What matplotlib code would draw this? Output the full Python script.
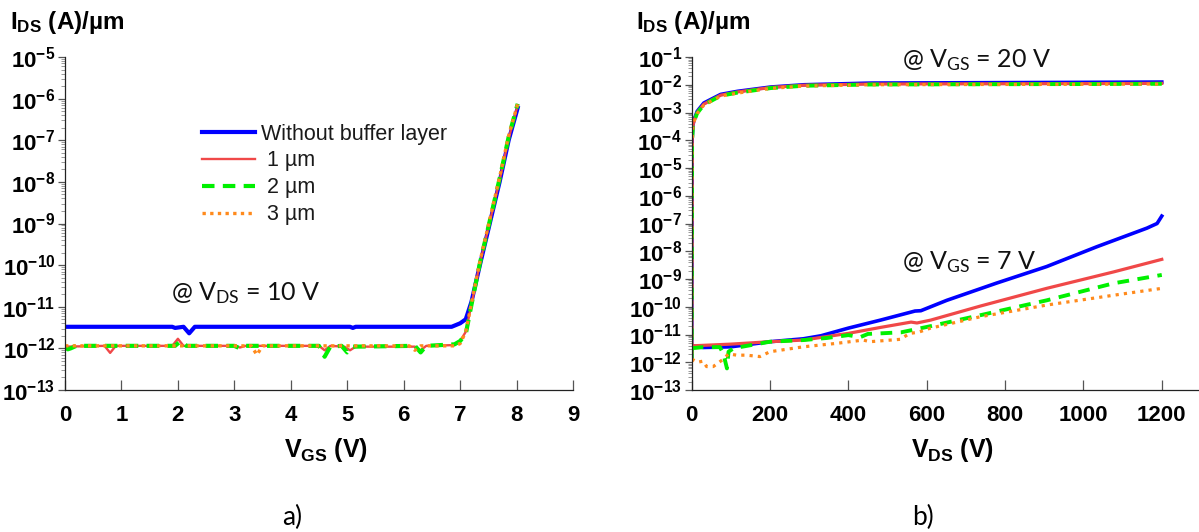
import numpy as np
import matplotlib
matplotlib.use("Agg")
import matplotlib.pyplot as plt
from matplotlib.ticker import LogLocator, NullFormatter

plt.rcParams['font.family'] = ['Liberation Sans', 'DejaVu Sans']
plt.rcParams['mathtext.default'] = 'regular'

# ---- a) transfer curves, I_DS vs V_GS @ V_DS = 10 V ----
vgs_blue = [0, 1.9, 1.95, 2.1, 2.2, 2.3, 5.05, 5.1, 5.15, 6.85, 7.0, 7.1, 7.2, 7.35, 7.7, 7.86, 8.02]
ids_blue = [3.3e-12, 3.3e-12, 3.1e-12, 3.3e-12, 2.3e-12, 3.3e-12, 3.3e-12, 3.1e-12, 3.3e-12,
            3.3e-12, 4.0e-12, 5.0e-12, 1.3e-11, 1.0e-10, 1.0e-8, 1.0e-7, 6.0e-7]

vgs_1um = [0, 0.7, 0.8, 0.9, 1.9, 2.0, 2.1, 3.0, 3.1, 3.2, 4.5, 4.6, 4.7, 4.95, 5.05, 5.15,
           6.2, 6.3, 6.4, 6.9, 7.0, 7.1, 7.2, 7.35, 7.7, 7.86, 8.02]
ids_1um = [1.1e-12, 1.15e-12, 7.8e-13, 1.15e-12, 1.15e-12, 1.7e-12, 1.15e-12, 1.15e-12, 1.05e-12,
           1.15e-12, 1.15e-12, 9e-13, 1.15e-12, 1.1e-12, 9e-13, 1.1e-12, 1.1e-12, 9e-13, 1.15e-12,
           1.2e-12, 1.5e-12, 2.5e-12, 1.1e-11, 1.1e-10, 1.1e-8, 1.1e-7, 7e-7]

vgs_2um = [0, 0.05, 0.1, 0.2, 1.95, 2.05, 2.15, 3.0, 3.1, 3.2, 4.5, 4.6, 4.7, 4.9, 5.0, 5.1,
           6.2, 6.3, 6.4, 6.9, 7.0, 7.1, 7.2, 7.35, 7.7, 7.86, 8.02]
ids_2um = [1.1e-12, 9.5e-13, 1.0e-12, 1.15e-12, 1.15e-12, 1.5e-12, 1.15e-12, 1.15e-12, 1.0e-12,
           1.15e-12, 1.15e-12, 6.3e-13, 1.1e-12, 1.15e-12, 8e-13, 1.1e-12, 1.15e-12, 8e-13, 1.15e-12,
           1.25e-12, 1.5e-12, 2.2e-12, 1.1e-11, 1.1e-10, 1.2e-8, 1.2e-7, 7.5e-7]

vgs_3um = [0, 3.3, 3.4, 3.5, 6.1, 6.2, 6.3, 6.9, 7.0, 7.1, 7.2, 7.35, 7.7, 7.86, 8.02]
ids_3um = [1.15e-12, 1.15e-12, 7e-13, 1.15e-12, 1.15e-12, 9e-13, 1.15e-12, 1.15e-12, 1.3e-12,
           2.5e-12, 1.2e-11, 1.2e-10, 1.3e-8, 1.3e-7, 7.5e-7]

# ---- b) output curves, I_DS vs V_DS ----
# V_GS = 20 V
vds_on = [0, 1, 3, 6, 14, 31, 74, 117, 202, 287, 458, 700, 1000, 1200]
ids_on_blue = [1.5e-12, 1e-4, 3.5e-4, 5.5e-4, 1.1e-3, 2.2e-3, 4.5e-3, 5.8e-3, 8.3e-3, 1.0e-2, 1.15e-2, 1.18e-2, 1.22e-2, 1.25e-2]
ids_on_1um = [1.5e-12, 1e-4, 3.3e-4, 5e-4, 1.0e-3, 2.0e-3, 4.2e-3, 5.5e-3, 8e-3, 9.6e-3, 1.06e-2, 1.08e-2, 1.1e-2, 1.12e-2]
ids_on_2um = [1.2e-12, 9e-5, 3.1e-4, 4.8e-4, 9.5e-4, 1.9e-3, 4.0e-3, 5.2e-3, 7.6e-3, 9.2e-3, 1.02e-2, 1.04e-2, 1.06e-2, 1.08e-2]
ids_on_3um = [1.0e-12, 9e-5, 3.0e-4, 4.7e-4, 9.2e-4, 1.85e-3, 3.9e-3, 5.0e-3, 7.4e-3, 9.0e-3, 1.0e-2, 1.02e-2, 1.04e-2, 1.06e-2]

# V_GS = 7 V
vds_off_blue = [0, 30, 100, 200, 285, 330, 400, 482, 570, 585, 651, 778, 906, 1034, 1162, 1188, 1200]
ids_off_blue = [3.9e-12, 3.4e-12, 3.6e-12, 5.5e-12, 7e-12, 9e-12, 1.7e-11, 3.3e-11, 7.0e-11, 7.2e-11,
                1.7e-10, 7.1e-10, 2.8e-9, 1.45e-8, 6.8e-8, 1.0e-7, 1.85e-7]
vds_off_1um = [0, 100, 200, 285, 400, 482, 560, 575, 610, 738, 906, 1077, 1200]
ids_off_1um = [3.9e-12, 4.5e-12, 5.5e-12, 6.3e-12, 1.1e-11, 1.8e-11, 2.8e-11, 2.6e-11, 3.3e-11,
               1.07e-10, 4.6e-10, 1.8e-9, 5.1e-9]
vds_off_2um = [0, 29, 72, 81, 90, 94, 107, 200, 285, 345, 400, 430, 450, 482, 535, 610, 738, 906, 1077, 1200]
ids_off_2um = [3.2e-12, 3.5e-12, 3.5e-12, 2e-12, 6e-13, 2.4e-12, 3.2e-12, 5.5e-12, 6.3e-12, 7.5e-12,
               9.5e-12, 8e-12, 1.05e-11, 1.1e-11, 1.2e-11, 2.0e-11, 5e-11, 1.7e-10, 7e-10, 1.4e-9]
vds_off_3um = [0, 15, 29, 38, 55, 81, 94, 115, 140, 174, 200, 285, 370, 438, 455, 532, 557, 578,
               610, 738, 906, 1077, 1200]
ids_off_3um = [1.3e-12, 1e-12, 1.1e-12, 7e-13, 7e-13, 1.3e-12, 2e-12, 1.8e-12, 1.8e-12, 1.6e-12,
               2.4e-12, 3.6e-12, 4.8e-12, 6.3e-12, 5.5e-12, 6.7e-12, 1.1e-11, 1.2e-11, 1.7e-11,
               4.4e-11, 1.15e-10, 2.6e-10, 4.6e-10]

labels = ['Without buffer layer', ' 1 µm', ' 2 µm', ' 3 µm']
c_blue = '#0000ff'
c_red = '#f04848'
c_green = '#00f000'
c_orange = '#ff8a1c'

styles_a = [dict(color=c_blue, lw=3.0, ls='-'),
            dict(color=c_red, lw=1.7, ls='-'),
            dict(color=c_green, lw=3.0, ls=(0, (3, 2))),
            dict(color=c_orange, lw=2.4, ls=(0, (1, 1.3)))]
styles_b = [dict(color=c_blue, lw=2.6, ls='-'),
            dict(color=c_red, lw=2.3, ls='-'),
            dict(color=c_green, lw=2.8, ls=(0, (3, 2.2))),
            dict(color=c_orange, lw=2.3, ls=(0, (1, 1.6)))]

W, H = 1199, 532
fig = plt.figure(figsize=(W / 100, H / 100), dpi=100)
ax1 = fig.add_axes([65 / W, 1 - 390 / H, 508 / W, 333 / H])
ax2 = fig.add_axes([691.7 / W, 1 - 390 / H, (W - 691.7) / W, 333 / H])

# panel a
for x, y, st, lab in zip([vgs_blue, vgs_1um, vgs_2um, vgs_3um],
                         [ids_blue, ids_1um, ids_2um, ids_3um], styles_a, labels):
    ax1.plot(x, y, label=lab, **st)

# panel b
for y, st in zip([ids_on_blue, ids_on_1um, ids_on_2um, ids_on_3um], styles_b):
    ax2.plot(vds_on, y, **st)
for x, y, st in zip([vds_off_blue, vds_off_1um, vds_off_2um, vds_off_3um],
                    [ids_off_blue, ids_off_1um, ids_off_2um, ids_off_3um], styles_b):
    ax2.plot(x, y, **st)

ax1.set_xlim(0, 9)
ax1.set_ylim(1e-13, 1e-5)
ax2.set_xlim(0, 1295)
ax2.set_ylim(1e-13, 1e-1)
ax1.set_xticks(range(0, 10))
ax2.set_xticks(range(0, 1201, 200))

for ax in (ax1, ax2):
    ax.set_yscale('log')
    ax.yaxis.set_major_locator(LogLocator(base=10, numticks=30))
    ax.yaxis.set_minor_locator(LogLocator(base=10, subs=np.arange(2, 10), numticks=300))
    ax.yaxis.set_minor_formatter(NullFormatter())
    for s in ('top', 'right'):
        ax.spines[s].set_visible(False)
    for s in ('left', 'bottom'):
        ax.spines[s].set_color('#222222')
        ax.spines[s].set_linewidth(0.9)
    ax.tick_params(axis='x', direction='in', length=7, width=0.9, color='#555555', pad=11)
    ax.tick_params(axis='y', which='major', direction='out', length=5, width=0.9, color='#555555', pad=2)
    ax.tick_params(axis='y', which='minor', direction='out', length=3, width=0.7, color='#999999')
    for t in ax.get_xticklabels() + ax.get_yticklabels():
        t.set_fontsize(16)
        t.set_fontweight('bold')
    ax.patch.set_alpha(0)

leg = ax1.legend(loc='upper left', bbox_to_anchor=(0.27, 0.80), frameon=False, fontsize=15.5,
                 handlelength=2.45, handletextpad=0.3, labelspacing=0.27, borderpad=0,
                 borderaxespad=0)
for t in leg.get_texts():
    t.set_color('#1a1a1a')

ann_font = dict(family=['Lato', 'DejaVu Sans'], fontsize=18, color='#111111', va='center')
ax1.text(1.88, 2.1e-11, '@ V$_{DS}$ = 10 V', **ann_font)
ax2.text(537, 7.8e-2, '@ V$_{GS}$ = 20 V', **ann_font)
ax2.text(537, 4e-9, '@ V$_{GS}$ = 7 V', **ann_font)

# axis titles
fig.text(10 / W, 1 - 29 / H, 'I$_{DS}$ (A)/µm', fontsize=17.5, fontweight='bold', va='baseline')
fig.text(636 / W, 1 - 29 / H, 'I$_{DS}$ (A)/µm', fontsize=17.5, fontweight='bold', va='baseline')
fig.text(326 / W, 1 - 457 / H, 'V$_{GS}$ (V)', fontsize=18, fontweight='bold', ha='center', va='baseline')
fig.text(953 / W, 1 - 457 / H, 'V$_{DS}$ (V)', fontsize=18, fontweight='bold', ha='center', va='baseline')

fig.text(292 / W, 1 - 525 / H, 'a)', family=['Lato', 'DejaVu Sans'], fontsize=19, ha='center', va='baseline')
fig.text(923 / W, 1 - 525 / H, 'b)', family=['Lato', 'DejaVu Sans'], fontsize=19, ha='center', va='baseline')

fig.savefig('out.png', dpi=100)
